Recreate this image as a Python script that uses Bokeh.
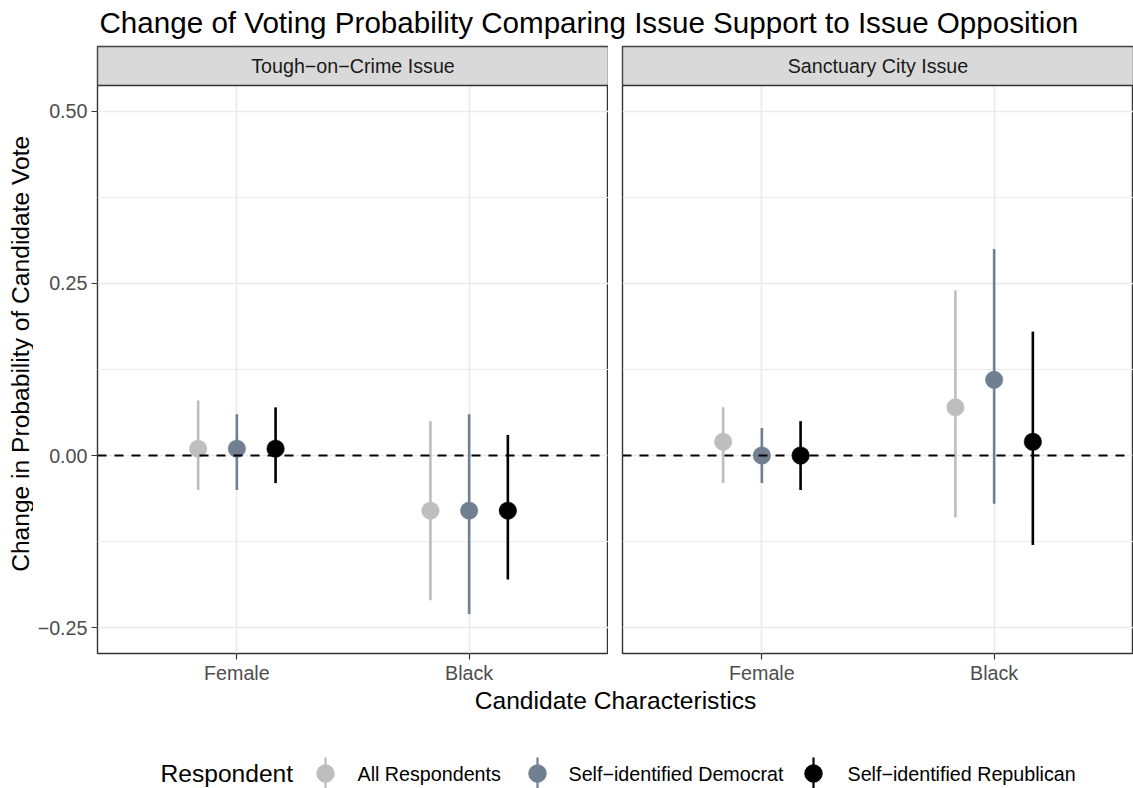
from math import pi
from bokeh.plotting import figure
from bokeh.layouts import column, row
from bokeh.models import (FactorRange, Range1d, FixedTicker, Span, BoxAnnotation,
                          Label, Grid, ColumnDataSource)
from bokeh.transform import dodge
from bokeh.core.properties import value
from bokeh.embed import file_html
from bokeh.resources import INLINE

# ---------------- data ----------------
title_text = "Change of Voting Probability Comparing Issue Support to Issue Opposition"
panel_titles = ["Tough\u2212on\u2212Crime Issue", "Sanctuary City Issue"]
characteristics = ["Female", "Black"]
respondents = ["All Respondents", "Self\u2212identified Democrat", "Self\u2212identified Republican"]
respondent_colors = ["#BEBEBE", "#708090", "#000000"]

# rows: respondents, columns: characteristics
crime_estimate = [[0.01, -0.08], [0.01, -0.08], [0.01, -0.08]]
crime_lower = [[-0.05, -0.21], [-0.05, -0.23], [-0.04, -0.18]]
crime_upper = [[0.08, 0.05], [0.06, 0.06], [0.07, 0.03]]

sanctuary_estimate = [[0.02, 0.07], [0.00, 0.11], [0.00, 0.02]]
sanctuary_lower = [[-0.04, -0.09], [-0.04, -0.07], [-0.05, -0.13]]
sanctuary_upper = [[0.07, 0.24], [0.04, 0.30], [0.05, 0.18]]

ytick_values = [-0.25, 0.0, 0.25, 0.5]
ytick_labels = ["\u22120.25", "0.00", "0.25", "0.50"]
yminor_values = [-0.125, 0.125, 0.375]
y_limits = (-0.25, 0.5)

x_title = "Candidate Characteristics"
y_title = "Change in Probability of Candidate Vote"
legend_title = "Respondent"

# ---------------- layout constants ----------------
FONT = "Liberation Sans"
TICK_FS = "19.7px"
AXIS_FS = "24.6px"
TITLE_FS = "29.6px"
GRID_COL = "#EBEBEB"
BORDER_COL = "#333333"

PAGE_W, PAGE_H = 1133, 788
FRAME_W = 511
PANEL_H = 568
STRIP_H = 39
FRAME_H = PANEL_H + STRIP_H
YT_W = 33
P1_LEFT = 64
GAP = 14
TOP_PAD = 2
BOTTOM_AX = 33
TITLE_H = 44
TOTAL_W = YT_W + P1_LEFT + FRAME_W + GAP + FRAME_W
P_H = TOP_PAD + FRAME_H + BOTTOM_AX
BOTTOM_H = PAGE_H - TITLE_H - P_H

span_y = y_limits[1] - y_limits[0]
y_lo = y_limits[0] - 0.05 * span_y
y_hi_panel = y_limits[1] + 0.05 * span_y
px_per_unit = PANEL_H / (y_hi_panel - y_lo)
y_hi = y_hi_panel + STRIP_H / px_per_unit
dodge_w = 0.5 / 3


def blank(w, h):
    p = figure(width=w, height=h, x_range=Range1d(0, w), y_range=Range1d(0, h),
               min_border=0, toolbar_location=None, output_backend="svg",
               x_axis_location=None, y_axis_location=None, title=None,
               outline_line_color=None)
    for g in p.select(type=Grid):
        g.visible = False
    p.background_fill_color = "white"
    p.border_fill_color = "white"
    return p


def panel(idx, est, lo, hi, left_border, with_yaxis):
    p = figure(frame_width=FRAME_W, frame_height=FRAME_H,
               x_range=FactorRange(*characteristics, range_padding=0.1,
                                   range_padding_units="absolute"),
               y_range=Range1d(y_lo, y_hi),
               min_border_left=left_border, min_border_right=0,
               min_border_top=TOP_PAD, min_border_bottom=BOTTOM_AX,
               toolbar_location=None, output_backend="svg", title=None,
               y_axis_location="left" if with_yaxis else None)
    p.background_fill_color = "white"
    p.border_fill_color = "white"
    p.outline_line_color = BORDER_COL
    p.outline_line_width = 1.4
    p.outline_line_alpha = 1.0

    # x axis
    xa = p.xaxis[0]
    xa.axis_line_color = None
    xa.major_tick_line_color = BORDER_COL
    xa.major_tick_line_width = 1.2
    xa.major_tick_out = 6
    xa.major_tick_in = 0
    xa.minor_tick_line_color = None
    xa.major_label_text_font = FONT
    xa.major_label_text_font_size = TICK_FS
    xa.major_label_text_color = "#4D4D4D"
    xa.major_label_standoff = 2

    ticker = FixedTicker(ticks=ytick_values, minor_ticks=yminor_values)
    if with_yaxis:
        ya = p.yaxis[0]
        ya.ticker = ticker
        ya.major_label_overrides = {v: l for v, l in zip(ytick_values, ytick_labels)}
        ya.axis_line_color = None
        ya.major_tick_line_color = BORDER_COL
        ya.major_tick_line_width = 1.2
        ya.major_tick_out = 6
        ya.major_tick_in = 0
        ya.minor_tick_line_color = None
        ya.major_label_text_font = FONT
        ya.major_label_text_font_size = TICK_FS
        ya.major_label_text_color = "#4D4D4D"
        ya.major_label_standoff = 4

    ygrids = [g for g in p.select(type=Grid) if g.dimension == 1]
    if not ygrids:
        g = Grid(dimension=1, ticker=ticker)
        p.add_layout(g)
        ygrids = [g]
    for g in ygrids:
        g.ticker = ticker
        g.grid_line_color = GRID_COL
        g.grid_line_width = 1.5
        g.minor_grid_line_color = GRID_COL
        g.minor_grid_line_width = 1.0
    for g in p.select(type=Grid):
        if g.dimension == 0:
            g.grid_line_color = GRID_COL
            g.grid_line_width = 1.8

    for r, name in enumerate(respondents):
        src = ColumnDataSource(dict(x=characteristics, est=est[r], lo=lo[r], hi=hi[r]))
        off = (r - 1) * dodge_w
        xd = dodge("x", off, range=p.x_range)
        p.segment(x0=xd, y0="lo", x1=xd, y1="hi", source=src,
                  line_color=respondent_colors[r], line_width=2.6)
        p.scatter(x=xd, y="est", source=src, size=17.5,
                  fill_color=respondent_colors[r], line_color=respondent_colors[r],
                  line_width=0.5)

    p.add_layout(Span(location=0, dimension="width", line_color="black",
                      line_dash="9 8", line_width=2))

    strip = BoxAnnotation(bottom=y_hi_panel, fill_color="#D9D9D9", fill_alpha=1.0,
                          line_color=BORDER_COL, line_width=1.4, line_alpha=1.0)
    p.add_layout(strip)
    p.add_layout(Label(x=len(characteristics) / 2,
                       y=y_hi_panel + (STRIP_H / 2) / px_per_unit,
                       text=panel_titles[idx], text_align="center", text_baseline="middle",
                       text_font=FONT, text_font_size=TICK_FS, text_color="#1A1A1A"))
    return p


p1 = panel(0, crime_estimate, crime_lower, crime_upper, P1_LEFT, True)
p2 = panel(1, sanctuary_estimate, sanctuary_lower, sanctuary_upper, GAP, False)

# title
pt = blank(TOTAL_W, TITLE_H)
pt.text(x=[YT_W + P1_LEFT + 2], y=[TITLE_H - 21.5], text=[title_text], text_font=value(FONT),
        text_font_size=TITLE_FS, text_color="black", text_align="left",
        text_baseline="middle")

# y axis title
py = blank(YT_W, P_H)
py.text(x=[19.5], y=[P_H - TOP_PAD - STRIP_H - PANEL_H / 2], text=[y_title], angle=pi / 2,
        text_font=value(FONT), text_font_size=AXIS_FS, text_color="black",
        text_align="center", text_baseline="middle")

# bottom: x title + legend
pb = blank(TOTAL_W, BOTTOM_H)
x_center = YT_W + P1_LEFT + (2 * FRAME_W + GAP) / 2
pb.text(x=[x_center], y=[BOTTOM_H - 14], text=[x_title], text_font=value(FONT),
        text_font_size=AXIS_FS, text_color="black", text_align="center",
        text_baseline="middle")

leg_y = 15
pb.text(x=[160], y=[leg_y], text=[legend_title], text_font=value(FONT),
        text_font_size=AXIS_FS, text_color="black", text_align="left",
        text_baseline="middle")
key_x = [325, 537, 813]
lab_x = [357, 568, 847]
for i, name in enumerate(respondents):
    pb.segment(x0=[key_x[i]], y0=[leg_y - 16], x1=[key_x[i]], y1=[leg_y + 16],
               line_color=respondent_colors[i], line_width=2.2)
    pb.scatter(x=[key_x[i]], y=[leg_y], size=17.5, fill_color=respondent_colors[i],
               line_color=respondent_colors[i])
    pb.text(x=[lab_x[i]], y=[leg_y], text=[name], text_font=value(FONT),
            text_font_size=TICK_FS, text_color="black", text_align="left",
            text_baseline="middle")

layout = column(pt, row(py, p1, p2), pb)
open("out.html", "w").write(file_html(layout, INLINE))
